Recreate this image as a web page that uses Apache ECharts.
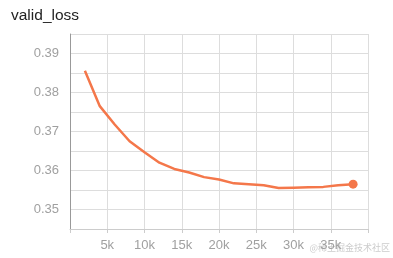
<!DOCTYPE html>
<html><head><meta charset="utf-8">
<script src="https://cdn.jsdelivr.net/npm/echarts@6/dist/echarts.min.js"></script>
<style>html,body{margin:0;padding:0;background:#fff}#c{width:393px;height:258px}</style>
</head><body><div id="c"></div>
<script>
const steps = [2000,4000,6000,8000,10000,12000,14000,16000,18000,20000,22000,24000,26000,28000,30000,32000,34000,36000,38000];
const validLoss = [0.3856,0.3765,0.3718,0.3675,0.3647,0.3620,0.3604,0.3595,0.3583,0.3577,0.3567,0.3565,0.3562,0.3555,0.3556,0.3557,0.3558,0.3562,0.3565];
const xTickLabels = {5000:'5k',10000:'10k',15000:'15k',20000:'20k',25000:'25k',30000:'30k',35000:'35k'};
const yTickLabels = [0.35,0.36,0.37,0.38,0.39];

const chart = echarts.init(document.getElementById('c'), null, {renderer:'canvas'});
const data = steps.map((s,i)=>[s, validLoss[i]]);
const font = 'Helvetica Neue, Liberation Sans, Arial, sans-serif';
chart.setOption({
  animation:false,
  title:{text:'valid_loss', left:6, top:3, textStyle:{fontFamily:font, fontSize:15.5, fontWeight:'normal', color:'#222'}},
  grid:{left:70, right:25, top:34, bottom:29, containLabel:false},
  xAxis:{type:'value', min:0, max:40000, interval:5000,
    axisLine:{show:true, lineStyle:{color:'#ccc', width:1}},
    axisTick:{show:true, length:4, lineStyle:{color:'#ccc'}},
    splitLine:{show:true, lineStyle:{color:'#ddd', width:1}},
    axisLabel:{formatter:v=>xTickLabels[v]||'', color:'#a0a0a0', fontFamily:font, fontSize:13, margin:10}},
  yAxis:{type:'value', min:0.345, max:0.395, interval:0.005,
    axisLine:{show:true, lineStyle:{color:'#999', width:1}},
    axisTick:{show:false},
    splitLine:{show:true, lineStyle:{color:'#ddd', width:1}},
    axisLabel:{formatter:v=>{const r=yTickLabels.find(t=>Math.abs(t-v)<1e-6);return r!==undefined?r.toFixed(2):'';}, color:'#a0a0a0', fontFamily:font, fontSize:13, margin:11}},
  series:[{type:'line', data:data, showSymbol:false, symbol:'circle', symbolSize:8,
    lineStyle:{color:'#f4774a', width:2.5}, itemStyle:{color:'#f4774a'},
    markPoint:{symbol:'circle', symbolSize:9, itemStyle:{color:'#f4774a'}, label:{show:false},
      data:[{coord:data[data.length-1]}]}}],
  graphic:[{type:'text', right:3, bottom:6, style:{text:'@稀土掘金技术社区', fill:'#cccccc', font:'9px "Noto Sans CJK SC", sans-serif'}}]
});
</script></body></html>
